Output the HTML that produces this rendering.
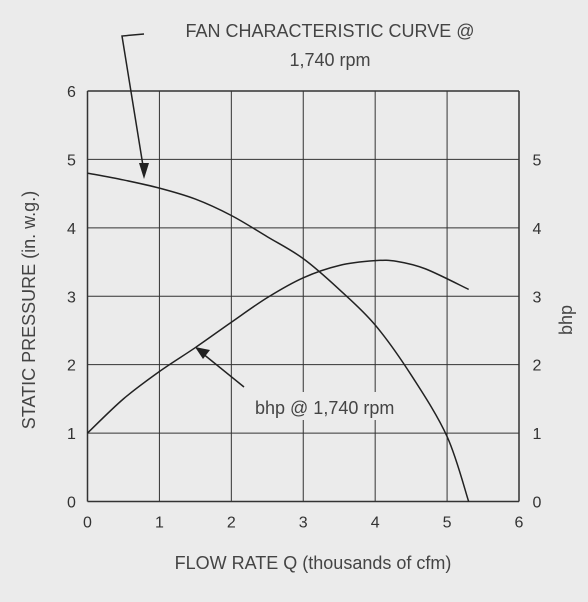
<!DOCTYPE html>
<html><head><meta charset="utf-8"><style>
body{margin:0;background:#ebebeb;}
svg{display:block;font-family:"Liberation Sans",sans-serif;}
</style></head><body>
<svg width="588" height="602">
<rect width="588" height="602" fill="#ebebeb"/>
<g id="grid"></g>
<g id="marks"></g>
<text x="330" y="37" font-size="18" fill="#444" text-anchor="middle">FAN CHARACTERISTIC CURVE @</text>
<text x="330" y="66" font-size="18" fill="#444" text-anchor="middle">1,740 rpm</text>
<rect x="250" y="392" width="170" height="28" fill="#ebebeb"/>
<text x="255" y="414" font-size="18" fill="#444">bhp @ 1,740 rpm</text>
<text x="313" y="569" font-size="18" fill="#444" text-anchor="middle">FLOW RATE Q (thousands of cfm)</text>
<text transform="translate(35,310) rotate(-90)" font-size="18" fill="#444" text-anchor="middle">STATIC PRESSURE (in. w.g.)</text>
<text transform="translate(572,320) rotate(-90)" font-size="18" fill="#444" text-anchor="middle">bhp</text>
<path d="M144,34 L122,36 L144,172" fill="none" stroke="#222" stroke-width="1.5"/>
<polygon points="144,179 139,163 149,163" fill="#222"/>
<line x1="244" y1="387" x2="202" y2="353" stroke="#222" stroke-width="1.5"/>
<polygon points="195,347 210,350 203,359" fill="#222"/>
</svg>
<script>
const xTicks=[0,1,2,3,4,5,6];
const yTicks=[0,1,2,3,4,5,6];
const rTicks=[0,1,2,3,4,5];
const fanQ=[0,0.5,1,1.5,2,2.5,3,3.5,4,4.5,5,5.3];
const fanP=[4.8,4.7,4.58,4.42,4.18,3.87,3.55,3.1,2.58,1.85,0.95,0];
const bhpQ=[0,0.5,1,1.5,2,2.5,3,3.5,4,4.3,4.7,5.3];
const bhpV=[1,1.5,1.9,2.25,2.62,2.98,3.27,3.45,3.52,3.51,3.4,3.1];
const X0=87.5,X1=519,Y0=501.5,Y1=91;
const sx=v=>X0+(X1-X0)*v/6, sy=v=>Y0-(Y0-Y1)*v/6;
const NS="http://www.w3.org/2000/svg";
const grid=document.getElementById('grid'), marks=document.getElementById('marks');
function mk(t,a,p){const e=document.createElementNS(NS,t);for(const k in a)e.setAttribute(k,a[k]);p.appendChild(e);return e;}
xTicks.forEach(v=>{
 const l=mk('line',{x1:sx(v),x2:sx(v),y1:Y1,y2:Y0,stroke:'#333','stroke-width':(v==0||v==6)?1.5:1},grid);
 
 
 const t=mk('text',{x:sx(v),y:Y0+26,'font-size':16,fill:'#333','text-anchor':'middle'},grid);t.textContent=v;
 
 
});
yTicks.forEach(v=>{
 const l=mk('line',{x1:X0,x2:X1,y1:sy(v),y2:sy(v),stroke:'#333','stroke-width':(v==0||v==6)?1.5:1},grid);
 
 
 const t=mk('text',{x:X0-16,y:sy(v)+6,'font-size':16,fill:'#333','text-anchor':'middle'},grid);t.textContent=v;
 
 
});
rTicks.forEach(v=>{
 const t=mk('text',{x:X1+18,y:sy(v)+6,'font-size':16,fill:'#333','text-anchor':'middle'},grid);t.textContent=v;
 
 
});
function curve(xs,ys,name){
 const pts=xs.map((x,i)=>[sx(x),sy(ys[i])]);
 let d='M'+pts[0].join(',');
 for(let i=0;i<pts.length-1;i++){
  const p0=pts[i-1]||pts[i],p1=pts[i],p2=pts[i+1],p3=pts[i+2]||p2;
  d+=` C${p1[0]+(p2[0]-p0[0])/6},${p1[1]+(p2[1]-p0[1])/6} ${p2[0]-(p3[0]-p1[0])/6},${p2[1]-(p3[1]-p1[1])/6} ${p2[0]},${p2[1]}`;
 }
 const e=mk('path',{d:d,fill:'none',stroke:'#222','stroke-width':1.5},marks);
 
 
}
curve(fanQ,fanP,'fan-curve');
curve(bhpQ,bhpV,'bhp-curve');
</script>
</body></html>
